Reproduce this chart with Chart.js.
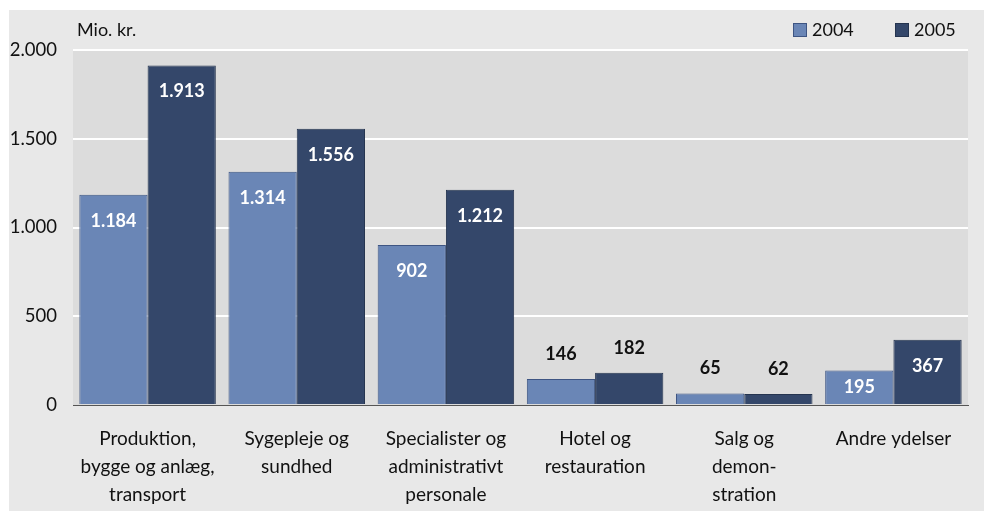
<!DOCTYPE html>
<html>
<head>
<meta charset="utf-8">
<script src="https://cdn.jsdelivr.net/npm/chart.js@4/dist/chart.umd.min.js"></script>
<style>
  body { margin: 0; background: #fff; }
  #wrap { position: absolute; left: 9px; top: 10px; width: 975px; height: 501px; background: #e8e8e8; }
</style>
</head>
<body>
<div id="wrap"><canvas id="chart"></canvas></div>
<script>
var categories = [
    ['Produktion,', 'bygge og anlæg,', 'transport'],
    ['Sygepleje og', 'sundhed'],
    ['Specialister og', 'administrativt', 'personale'],
    ['Hotel og', 'restauration'],
    ['Salg og', 'demon-', 'stration'],
    ['Andre ydelser']
];
var values2004 = [1184, 1314, 902, 146, 65, 195];
var values2005 = [1913, 1556, 1212, 182, 62, 367];
var yTicks = [0, 500, 1000, 1500, 2000];
var unitLabel = 'Mio. kr.';

var FONT = 'Lato';

function fmt(v) {
    return v.toString().replace(/\B(?=(\d{3})+(?!\d))/g, '.');
}

// grey plot background
var plotBg = {
    id: 'plotBg',
    beforeDraw: function (chart) {
        var a = chart.chartArea, ctx = chart.ctx;
        ctx.save();
        ctx.fillStyle = '#dcdcdc';
        ctx.fillRect(a.left, a.top, a.right - a.left, a.bottom - a.top);
        ctx.restore();
    }
};

// value labels, unit text and legend
var extras = {
    id: 'extras',
    afterDatasetsDraw: function (chart) {
        var ctx = chart.ctx;
        ctx.save();
        ctx.font = 'bold 18px ' + FONT;
        ctx.textAlign = 'center';
        ctx.textBaseline = 'middle';
        chart.data.datasets.forEach(function (ds, i) {
            chart.getDatasetMeta(i).data.forEach(function (bar, j) {
                var v = ds.data[j];
                var h = bar.base - bar.y;
                if (h > 33) {
                    ctx.fillStyle = '#ffffff';
                    ctx.fillText(fmt(v), bar.x, Math.min(bar.y + 26, (bar.y + bar.base) / 2));
                } else {
                    ctx.fillStyle = '#111111';
                    ctx.fillText(fmt(v), bar.x, bar.y - 25);
                }
            });
        });
        var a = chart.chartArea;
        ctx.font = '18px ' + FONT;
        ctx.textAlign = 'left';
        ctx.fillStyle = '#111111';
        ctx.fillText(unitLabel, a.left + 4, 20);
        var lx = [784, 886];
        chart.data.datasets.forEach(function (ds, i) {
            ctx.fillStyle = ds.backgroundColor;
            ctx.fillRect(lx[i], 13, 14, 14);
            ctx.strokeStyle = ds.borderColor;
            ctx.lineWidth = 1;
            ctx.strokeRect(lx[i] + 0.5, 13.5, 13, 13);
            ctx.fillStyle = '#111111';
            ctx.fillText(ds.label, lx[i] + 19, 20);
        });
        ctx.restore();
    }
};

new Chart(document.getElementById('chart'), {
    type: 'bar',
    data: {
        labels: categories,
        datasets: [{
            label: '2004',
            data: values2004,
            backgroundColor: '#6a86b6',
            borderColor: '#3e5583',
            borderWidth: 1
        }, {
            label: '2005',
            data: values2005,
            backgroundColor: '#34476a',
            borderColor: '#25344f',
            borderWidth: 1
        }]
    },
    options: {
        responsive: true,
        maintainAspectRatio: false,
        animation: false,
        layout: { padding: { top: 40, right: 16, left: 0, bottom: 0 } },
        datasets: { bar: { categoryPercentage: 0.915, barPercentage: 1 } },
        plugins: {
            legend: { display: false },
            tooltip: { enabled: false }
        },
        scales: {
            x: {
                grid: { display: false, drawTicks: false },
                border: { display: true, color: '#555555', width: 1 },
                ticks: {
                    color: '#111111',
                    font: { family: FONT, size: 19, lineHeight: 1.47 },
                    padding: 20,
                    maxRotation: 0,
                    autoSkip: false
                },
                afterFit: function (s) { s.height = 106; }
            },
            y: {
                min: 0,
                max: 2000,
                afterBuildTicks: function (s) {
                    s.ticks = yTicks.map(function (v) { return { value: v }; });
                },
                grid: {
                    color: function (c) { return c.tick && c.tick.value === 0 ? 'rgba(0,0,0,0)' : '#ffffff'; },
                    lineWidth: 2,
                    drawTicks: false
                },
                border: { display: false },
                ticks: {
                    color: '#111111',
                    font: { family: FONT, size: 18.5 },
                    padding: 16,
                    callback: function (v) { return fmt(v); }
                },
                afterFit: function (s) { s.width = 64; }
            }
        }
    },
    plugins: [plotBg, extras]
});
</script>
</body>
</html>
